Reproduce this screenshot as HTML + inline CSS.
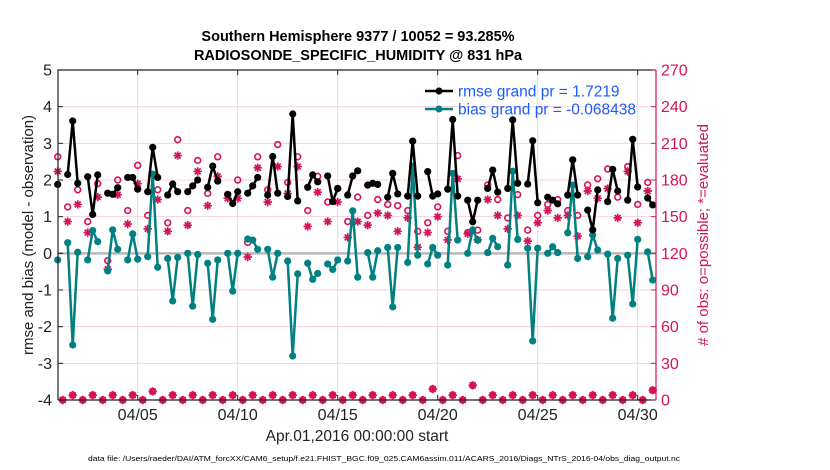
<!DOCTYPE html>
<html><head><meta charset="utf-8"><style>
html,body{margin:0;padding:0;background:#fff;}
svg{display:block;font-family:"Liberation Sans",Arial,sans-serif;}
</style></head><body>
<svg id="chart" width="830" height="470" viewBox="0 0 830 470">
  <g id="grid"></g>
  <g id="plot"></g>
  <g id="axes"></g>
  <text x="358" y="41" text-anchor="middle" font-size="14.5" font-weight="bold" fill="#000">Southern Hemisphere 9377 / 10052 = 93.285%</text>
  <text x="358" y="60" text-anchor="middle" font-size="14.5" font-weight="bold" fill="#000">RADIOSONDE_SPECIFIC_HUMIDITY @ 831 hPa</text>
  <text transform="translate(33,235) rotate(-90)" text-anchor="middle" font-size="15" fill="#222">rmse and bias (model - observation)</text>
  <text transform="translate(708,235) rotate(-90)" text-anchor="middle" font-size="15" fill="#d6135a"># of obs: o=possible; *=evaluated</text>
  <text x="357" y="441" text-anchor="middle" font-size="15.5" fill="#222">Apr.01,2016 00:00:00 start</text>
  <text x="384" y="461" text-anchor="middle" font-size="7.5" fill="#000" textLength="592" lengthAdjust="spacingAndGlyphs">data file: /Users/raeder/DAI/ATM_forcXX/CAM6_setup/f.e21.FHIST_BGC.f09_025.CAM6assim.011/ACARS_2016/Diags_NTrS_2016-04/obs_diag_output.nc</text>
  <g>
    <line x1="425" y1="91" x2="453" y2="91" stroke="#000" stroke-width="2.5"/>
    <circle cx="439" cy="91" r="3.5" fill="#000"/>
    <text x="458" y="96.5" font-size="15.5" fill="#1a5cff">rmse grand pr = 1.7219</text>
    <line x1="425" y1="109" x2="453" y2="109" stroke="#008080" stroke-width="2.5"/>
    <circle cx="439" cy="109" r="3.5" fill="#008080"/>
    <text x="458" y="114.5" font-size="15.5" fill="#1a5cff">bias grand pr = -0.068438</text>
  </g>
</svg>
<script>
// time index k = 6-hour steps from Apr 01 00:00
const rmse = [1.88,null,2.15,3.61,1.91,null,2.09,1.06,2.14,null,1.64,1.61,1.79,null,2.07,2.07,1.75,null,1.68,2.89,2.07,null,1.59,1.89,1.68,null,1.68,1.84,2.0,null,1.8,2.38,1.97,null,1.61,1.36,1.68,null,1.64,1.84,2.07,null,1.59,2.64,1.64,null,1.55,3.8,1.43,null,1.8,2.14,1.95,null,2.11,1.41,1.77,null,1.59,2.11,2.25,null,1.86,1.91,1.88,null,1.53,2.18,1.62,null,1.56,3.06,1.56,null,2.23,1.56,1.62,null,1.75,3.65,1.56,null,1.45,0.86,1.45,null,1.77,2.27,1.67,null,1.77,3.64,1.91,null,1.89,3.07,1.38,null,1.53,1.45,1.35,null,1.59,2.55,1.59,null,1.18,0.64,1.73,null,1.41,2.29,1.7,null,1.45,3.11,1.81,null,1.51,1.32];
const bias = [-0.18,null,0.29,-2.5,0.03,null,-0.18,0.62,0.32,null,-0.48,0.64,0.11,null,-0.18,0.53,-0.16,null,-0.09,2.16,-0.38,null,-0.14,-1.3,-0.11,null,0,-1.44,-0.03,null,-0.27,-1.8,-0.18,null,0,-1.03,0,null,0.39,0.36,0.11,null,0.11,-0.65,0,null,-0.21,-2.8,-0.56,null,-0.27,-0.71,-0.55,null,-0.29,-0.44,-0.18,null,-0.21,1.16,-0.65,null,0.02,-0.65,0.07,null,0.16,-1.46,0.16,null,-0.25,2.38,-0.05,null,-0.29,0.16,-0.05,null,-0.32,2.18,0.36,null,0,0.64,0.36,null,0.02,0.41,0.18,null,-0.32,2.24,0.38,null,0.14,-2.39,0.14,null,0,0.18,0.02,null,0.56,1.86,-0.14,null,-0.09,0.5,0.09,null,-0.02,-1.77,-0.14,null,-0.05,-1.38,0.38,null,0.04,-0.73];
const possible = [199,0,158,4,172,0,146,4,177,0,114,4,180,0,155,4,192,0,151,7,172,0,145,4,213,0,155,4,196,0,169,4,199,0,168,4,180,0,129,4,199,0,172,4,209,0,178,4,199,0,155,4,183,0,162,4,173,0,146,4,166,0,151,4,164,0,160,4,159,0,155,4,138,0,145,9,158,0,138,4,200,0,137,12,139,0,176,4,164,0,149,4,168,0,139,4,151,0,160,4,164,0,155,4,151,0,176,4,181,0,189,4,166,0,191,4,160,0,178,8];
const evaluated = [187,0,146,4,160,0,137,4,166,0,107,4,168,0,144,4,177,0,140,7,164,0,138,4,200,0,143,4,187,0,159,4,183,0,165,4,165,0,117,4,190,0,162,4,191,0,169,4,191,0,142,4,170,0,146,4,162,0,133,4,146,0,143,4,153,0,151,4,138,0,149,4,125,0,137,9,150,0,131,4,181,0,136,12,131,0,164,4,151,0,140,4,151,0,130,4,145,0,155,4,149,0,151,4,134,0,171,4,165,0,173,4,149,0,187,4,145,0,171,8];
const leftTicks = [-4,-3,-2,-1,0,1,2,3,4,5];
const rightTicks = [0,30,60,90,120,150,180,210,240,270];
const xTickDays = [4,9,14,19,24,29];
const xTickLabels = ["04/05","04/10","04/15","04/20","04/25","04/30"];

const NS="http://www.w3.org/2000/svg";
const L=58,R=656,T=70,B=400;
const PXDAY=20, X0=57.7;
function xDay(d){return X0+d*PXDAY;}
function xK(k){return xDay(k/4);}
function yL(v){return B-(v+4)*(B-T)/9;}
function yR(c){return B-c*(B-T)/270;}
function mk(tag,attrs,parent){const e=document.createElementNS(NS,tag);for(const a in attrs)e.setAttribute(a,attrs[a]);parent.appendChild(e);return e;}
const grid=document.getElementById('grid'),plot=document.getElementById('plot'),axes=document.getElementById('axes');

rightTicks.forEach(c=>{ if(c===0||c===270) return;
  const e=mk('line',{x1:L,x2:R,y1:yR(c),y2:yR(c),stroke:'#f4d2de','stroke-width':1},grid);
  
  
});
xTickDays.forEach(d=>{
  const e=mk('line',{x1:xDay(d),x2:xDay(d),y1:T,y2:B,stroke:'#dcdcdc','stroke-width':1},grid);
  
  
});
const zl=mk('line',{x1:L,x2:R,y1:yL(0),y2:yL(0),stroke:'#b8b8b8','stroke-width':2.5},grid);



possible.forEach((c,k)=>{
  const e=mk('circle',{cx:xK(k),cy:yR(c),r:2.9,fill:'none',stroke:'#d6135a','stroke-width':1.6},plot);
  
  
});
evaluated.forEach((c,k)=>{
  const x=xK(k),y=yR(c),s=4.2;
  const g=mk('path',{d:`M${x-s},${y}H${x+s}M${x},${y-s}V${y+s}M${x-s*0.7},${y-s*0.7}L${x+s*0.7},${y+s*0.7}M${x-s*0.7},${y+s*0.7}L${x+s*0.7},${y-s*0.7}`,stroke:'#d6135a','stroke-width':1.7,fill:'none'},plot);
  
  
});

function series(vals,color,name){
  let d='',pen=false;
  vals.forEach((v,k)=>{ if(v===null){pen=false;return;}
    d+=(pen?'L':'M')+xK(k).toFixed(1)+','+yL(v).toFixed(1); pen=true; });
  const p=mk('path',{d:d,stroke:color,'stroke-width':2.5,fill:'none','stroke-linejoin':'round'},plot);
  
  
  vals.forEach((v,k)=>{ if(v===null) return;
    const c=mk('circle',{cx:xK(k),cy:yL(v),r:3.6,fill:color},plot);
    
    
  });
}
series(bias,'#008080','bias');
series(rmse,'#000000','rmse');

const box=mk('path',{d:`M${L},${B}V${T}H${R}`,stroke:'#222','stroke-width':1.2,fill:'none'},axes);


const xb=mk('line',{x1:L,x2:R,y1:B,y2:B,stroke:'#222','stroke-width':1.2},axes);


const ra=mk('line',{x1:R,x2:R,y1:T,y2:B,stroke:'#d6135a','stroke-width':1.2},axes);


leftTicks.forEach(v=>{
  const y=yL(v);
  const t=mk('line',{x1:L,x2:L+5,y1:y,y2:y,stroke:'#222','stroke-width':1},axes);
  
  
  const tx=mk('text',{x:L-6,y:y+5.5,'text-anchor':'end','font-size':16,fill:'#222'},axes);
  tx.textContent=v;
  
  
});
rightTicks.forEach(c=>{
  const y=yR(c);
  const t=mk('line',{x1:R-5,x2:R,y1:y,y2:y,stroke:'#d6135a','stroke-width':1},axes);
  
  
  const tx=mk('text',{x:R+5,y:y+5.5,'font-size':16,fill:'#d6135a'},axes);
  tx.textContent=c;
  
  
});
xTickDays.forEach((d,i)=>{
  const x=xDay(d);
  const t=mk('line',{x1:x,x2:x,y1:B-5,y2:B,stroke:'#222','stroke-width':1},axes);
  
  
  const t2=mk('line',{x1:x,x2:x,y1:T,y2:T+5,stroke:'#222','stroke-width':1},axes);
  
  
  const tx=mk('text',{x:x,y:B+20,'text-anchor':'middle','font-size':16,fill:'#222'},axes);
  tx.textContent=xTickLabels[i];
  
  
});
</script>
</body></html>
